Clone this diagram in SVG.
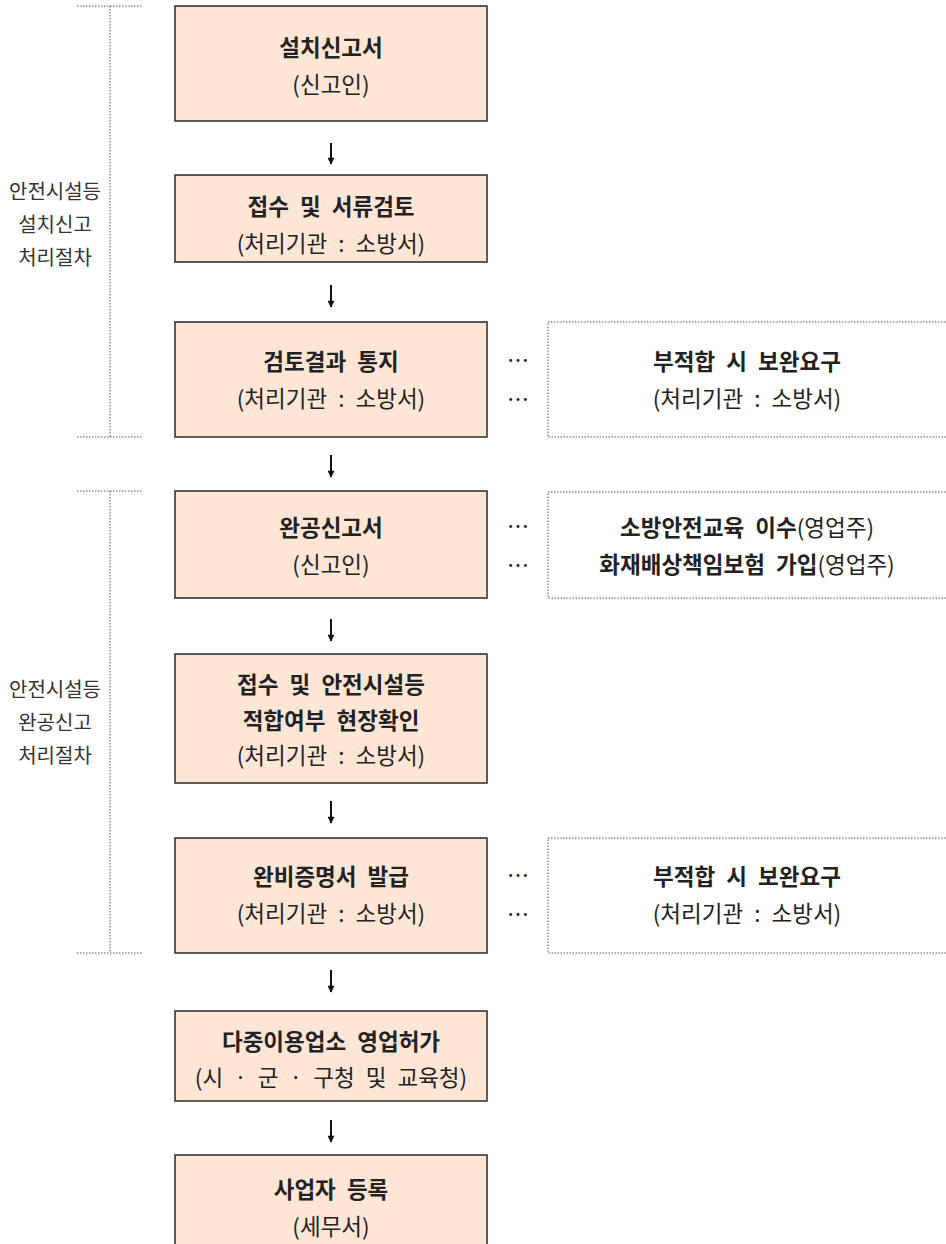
<svg xmlns="http://www.w3.org/2000/svg" width="946" height="1244" viewBox="0 0 946 1244">
<style>
.box{fill:#FEE6D7;stroke:#2a2a2a;stroke-width:1.5}
.side{fill:#fff;stroke:#555;stroke-width:1;stroke-dasharray:1.5 1.5}
.br{fill:none;stroke:#555;stroke-width:1;stroke-dasharray:1.5 1.5}
text{font-family:"Noto Sans CJK KR","Noto Sans",sans-serif;font-size:22.5px;fill:#222;text-anchor:middle;dominant-baseline:central;word-spacing:6px}
.b{font-weight:bold}
.lab{font-size:20px;fill:#333}
.dots{font-size:22px}
.con{stroke:#111;stroke-width:2;fill:none}
</style>
<defs>
<marker id="ah" viewBox="0 0 10 10" refX="9" refY="5" markerWidth="8" markerHeight="7" orient="auto" markerUnits="userSpaceOnUse">
<path d="M0,0 L10,5 L0,10 z" fill="#111"/>
</marker>
</defs>
<g id="brackets">
<path class="br" d="M77,6 H143 M110,6 V437 M77,437 H143"/>
<path class="br" d="M77,491 H143 M110,491 V953 M77,953 H143"/>
</g>
<g id="label1"><text class="lab" x="55" y="190">안전시설등</text><text class="lab" x="55" y="223">설치신고</text><text class="lab" x="55" y="256">처리절차</text></g>
<g id="label2"><text class="lab" x="55" y="688">안전시설등</text><text class="lab" x="55" y="721">완공신고</text><text class="lab" x="55" y="754">처리절차</text></g>
<g id="n1"><rect class="box" x="175" y="6" width="312" height="115"/><text class="b" x="331" y="46">설치신고서</text><text x="331" y="83">(신고인)</text></g>
<g id="n2"><rect class="box" x="175" y="175" width="312" height="87"/><text class="b" x="331" y="205">접수 및 서류검토</text><text x="331" y="242">(처리기관 : 소방서)</text></g>
<g id="n3"><rect class="box" x="175" y="322" width="312" height="115"/><text class="b" x="331" y="360">검토결과 통지</text><text x="331" y="397">(처리기관 : 소방서)</text></g>
<g id="n4"><rect class="box" x="175" y="491" width="312" height="107"/><text class="b" x="331" y="526">완공신고서</text><text x="331" y="563">(신고인)</text></g>
<g id="n5"><rect class="box" x="175" y="654" width="312" height="129"/><text class="b" x="331" y="683">접수 및 안전시설등</text><text class="b" x="331" y="719">적합여부 현장확인</text><text x="331" y="754">(처리기관 : 소방서)</text></g>
<g id="n6"><rect class="box" x="175" y="838" width="312" height="115"/><text class="b" x="331" y="875">완비증명서 발급</text><text x="331" y="912">(처리기관 : 소방서)</text></g>
<g id="n7"><rect class="box" x="175" y="1011" width="312" height="90"/><text class="b" x="331" y="1040">다중이용업소 영업허가</text><text x="331" y="1076">(시 · 군 · 구청 및 교육청)</text></g>
<g id="n8"><rect class="box" x="175" y="1155" width="312" height="100"/><text class="b" x="331" y="1188">사업자 등록</text><text x="331" y="1225">(세무서)</text></g>
<g id="s1"><rect class="side" x="548" y="322" width="410" height="115"/><text class="b" x="747" y="360">부적합 시 보완요구</text><text x="747" y="397">(처리기관 : 소방서)</text></g>
<g id="s2"><rect class="side" x="548" y="492" width="410" height="106"/><text x="747" y="526"><tspan class="b">소방안전교육 이수</tspan>(영업주)</text><text x="747" y="563"><tspan class="b">화재배상책임보험 가입</tspan>(영업주)</text></g>
<g id="s3"><rect class="side" x="548" y="838" width="410" height="115"/><text class="b" x="747" y="875">부적합 시 보완요구</text><text x="747" y="912">(처리기관 : 소방서)</text></g>
<g id="dots">
<text class="dots" x="518" y="358">…</text><text class="dots" x="518" y="397">…</text>
<text class="dots" x="518" y="524">…</text><text class="dots" x="518" y="563">…</text>
<text class="dots" x="518" y="873">…</text><text class="dots" x="518" y="912">…</text>
</g>
<g id="connectors">
<line class="con" x1="331" y1="143" x2="331" y2="164" marker-end="url(#ah)"/>
<line class="con" x1="331" y1="285" x2="331" y2="307" marker-end="url(#ah)"/>
<line class="con" x1="331" y1="455" x2="331" y2="477" marker-end="url(#ah)"/>
<line class="con" x1="331" y1="619" x2="331" y2="641" marker-end="url(#ah)"/>
<line class="con" x1="331" y1="801" x2="331" y2="823" marker-end="url(#ah)"/>
<line class="con" x1="331" y1="970" x2="331" y2="992" marker-end="url(#ah)"/>
<line class="con" x1="331" y1="1120" x2="331" y2="1142" marker-end="url(#ah)"/>
</g>
</svg>
